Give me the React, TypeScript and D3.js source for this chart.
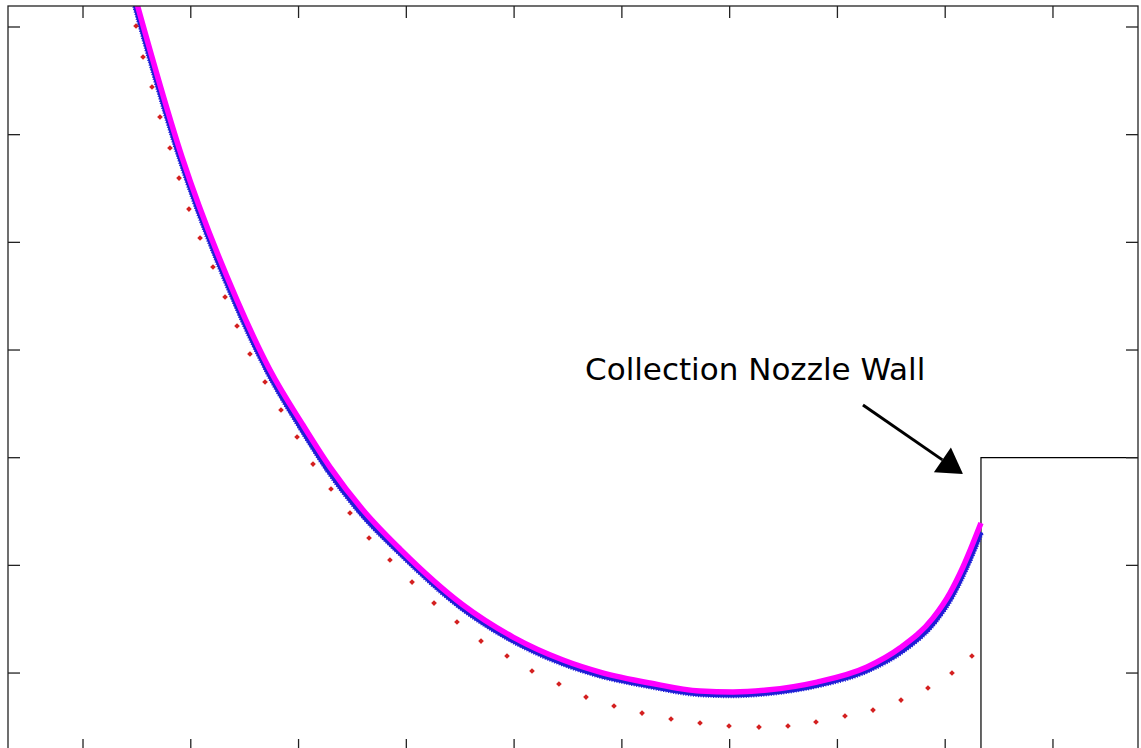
import React from "react";
import * as d3 from "d3";

// Plot units: one tick spacing = 1 unit on both axes.
const xTicks = [1, 2, 3, 4, 5, 6, 7, 8, 9, 10];
const yTicks = [1, 2, 3, 4, 5, 6, 7];
const xDomain = [0.304, 10.789];
const yDomain = [0.276, 7.195];

// Simulated particle path (magenta)
const simX = [1.473, 1.919, 2.429, 2.735, 3.041, 3.292, 3.598, 3.941, 4.526, 4.99, 5.454, 5.797, 6.261, 6.725, 7.031, 7.346, 7.81, 8.274, 8.58, 8.886, 9.044, 9.165, 9.332];
const simY = [7.316, 5.792, 4.464, 3.814, 3.303, 2.913, 2.514, 2.152, 1.632, 1.334, 1.121, 1.009, 0.907, 0.833, 0.824, 0.842, 0.916, 1.056, 1.232, 1.51, 1.743, 1.985, 2.393];

// Reference path (blue)
const refX = [1.455, 1.9, 2.41, 2.716, 3.023, 3.273, 3.579, 3.932, 4.516, 4.98, 5.444, 5.787, 6.261, 6.725, 7.031, 7.346, 7.819, 8.283, 8.599, 8.905, 9.063, 9.184, 9.332];
const refY = [7.307, 5.783, 4.446, 3.796, 3.275, 2.885, 2.486, 2.124, 1.604, 1.306, 1.093, 0.981, 0.879, 0.805, 0.796, 0.814, 0.889, 1.028, 1.204, 1.482, 1.715, 1.957, 2.31];

// Model trajectory sampled at fixed time steps (red markers)
const modelX = [1.492, 1.557, 1.64, 1.714, 1.807, 1.891, 1.983, 2.086, 2.206, 2.318, 2.429, 2.549, 2.689, 2.837, 2.986, 3.134, 3.301, 3.477, 3.654, 3.848, 4.053, 4.257, 4.47, 4.693, 4.934, 5.166, 5.416, 5.667, 5.927, 6.187, 6.456, 6.725, 6.994, 7.272, 7.541, 7.801, 8.07, 8.33, 8.59, 8.84, 9.063, 9.248];
const modelY = [7.009, 6.721, 6.443, 6.164, 5.876, 5.597, 5.309, 5.04, 4.771, 4.492, 4.223, 3.963, 3.703, 3.443, 3.192, 2.941, 2.709, 2.486, 2.254, 2.05, 1.845, 1.65, 1.474, 1.297, 1.158, 1.019, 0.898, 0.777, 0.694, 0.628, 0.573, 0.536, 0.508, 0.498, 0.508, 0.545, 0.601, 0.656, 0.749, 0.861, 1.0, 1.158];

// Collection nozzle wall corner
const wallX = 9.332;
const wallY = 3;

const annotationText = "Collection Nozzle Wall";

const W = 1141;
const H = 748;

export default function App() {
  const x = d3.scaleLinear().domain(xDomain).range([8, 1138]);
  const y = d3.scaleLinear().domain(yDomain).range([751, 6]);

  const line = d3
    .line<[number, number]>()
    .x((d) => x(d[0]))
    .y((d) => y(d[1]))
    .curve(d3.curveMonotoneX);

  const simPts = simX.map((v, i) => [v, simY[i]] as [number, number]);
  const refPts = refX.map((v, i) => [v, refY[i]] as [number, number]);

  const diamond = d3.symbol().type(d3.symbolSquare).size(16)();

  const [x0, x1] = x.range();
  const [y0, y1] = y.range(); // y0 bottom, y1 top
  const tick = 12;

  // arrow geometry (plot units)
  const arrowFrom: [number, number] = [8.237, 3.489];
  const arrowTip: [number, number] = [9.165, 2.848];
  const ax0 = x(arrowFrom[0]);
  const ay0 = y(arrowFrom[1]);
  const ax1 = x(arrowTip[0]);
  const ay1 = y(arrowTip[1]);
  const len = Math.hypot(ax1 - ax0, ay1 - ay0);
  const ux = (ax1 - ax0) / len;
  const uy = (ay1 - ay0) / len;
  const headL = 25;
  const headW = 15;
  const bx = ax1 - ux * headL;
  const by = ay1 - uy * headL;
  const head = `M${ax1},${ay1} L${bx - uy * headW},${by + ux * headW} L${bx + uy * headW},${by - ux * headW} Z`;

  return (
    <svg
      width={W}
      height={H}
      style={{ position: "absolute", left: 0, top: 0, background: "#fff" }}
    >
      <defs>
        <clipPath id="plotArea">
          <rect x={x0} y={y1} width={x1 - x0} height={y0 - y1} />
        </clipPath>
      </defs>

      {/* nozzle wall */}
      <path
        d={`M${x(wallX)},${y0} L${x(wallX)},${y(wallY)} L${x1},${y(wallY)}`}
        fill="none"
        stroke="#000"
        strokeWidth={1.2}
      />

      <g clipPath="url(#plotArea)">
        <path d={line(refPts) || ""} fill="none" stroke="#1f1fd6" strokeWidth={5} />
        <path
          d={line(refPts) || ""}
          fill="none"
          stroke="#1f1fd6"
          strokeWidth={6.5}
          strokeDasharray="1 1.5"
        />
        <path d={line(simPts) || ""} fill="none" stroke="#ff00ff" strokeWidth={5.5} />
        {modelX.map((v, i) => (
          <path
            key={i}
            d={diamond}
            transform={`translate(${x(v)},${y(modelY[i])}) rotate(45)`}
            fill="#d42020"
          />
        ))}
      </g>

      {/* frame and inward ticks */}
      <rect
        x={x0}
        y={y1}
        width={x1 - x0}
        height={y0 - y1}
        fill="none"
        stroke="#222"
        strokeWidth={1.3}
      />
      {xTicks.map((t) => (
        <g key={"x" + t} stroke="#222" strokeWidth={1.3}>
          <line x1={x(t)} x2={x(t)} y1={y0} y2={y0 - tick} />
          <line x1={x(t)} x2={x(t)} y1={y1} y2={y1 + tick} />
        </g>
      ))}
      {yTicks.map((t) => (
        <g key={"y" + t} stroke="#222" strokeWidth={1.3}>
          <line x1={x0} x2={x0 + tick} y1={y(t)} y2={y(t)} />
          <line x1={x1} x2={x1 - tick} y1={y(t)} y2={y(t)} />
        </g>
      ))}

      {/* annotation */}
      <text
        x={x(5.658)}
        y={y(3.721)}
        fontFamily="DejaVu Sans, Verdana, sans-serif"
        fontSize={31}
        fill="#000"
      >
        {annotationText}
      </text>
      <line x1={ax0} y1={ay0} x2={bx} y2={by} stroke="#000" strokeWidth={3} />
      <path d={head} fill="#000" />
    </svg>
  );
}
